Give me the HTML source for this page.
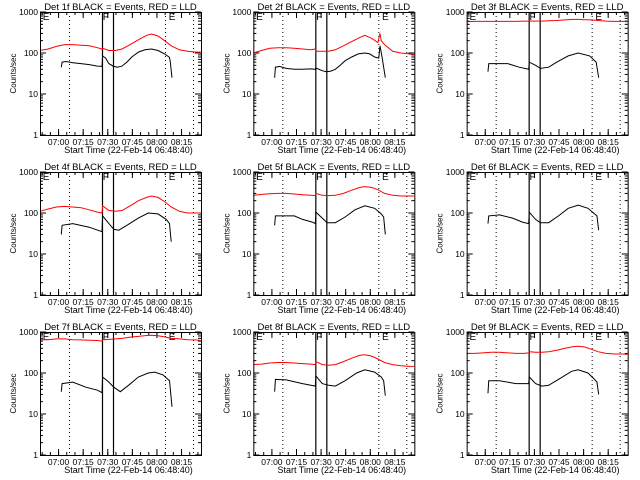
<!DOCTYPE html>
<html><head><meta charset="utf-8"><style>
html,body{margin:0;padding:0;background:#fff;width:640px;height:480px;overflow:hidden}
svg text{font-family:"Liberation Sans",sans-serif;fill:#000}
</style></head><body>
<svg id="chart" width="640" height="480" xmlns="http://www.w3.org/2000/svg"></svg>
<script>
// Minutes since start time 06:48:40
const detNames = ["1f","2f","3f","4f","5f","6f","7f","8f","9f"];
const tickLabels = ["07:00","07:15","07:30","07:45","08:00","08:15"];
const tickMinutes = [11.33,26.33,41.33,56.33,71.33,86.33];
const yTickValues = [1,10,100,1000];
const yTickLabels = ["1","10","100","1000"];
const dottedMinutes = [17.8,76.3,93.3];
const solidMinutes = [37.9,44.6];
const markerLabels = ["E","F","E"];
const markerMinutes = [1.7,38.3,78.5];

const redT = [0,5,10,15,20,25,30,35,37.8,38.2,42,46,50,55,60,65,68,72,76,80,85,90,95,98];
const red1 = [115,125,145,160,160,155,150,135,125,130,115,115,125,160,210,270,290,260,200,150,120,110,105,105];
const red2T = [0,5,10,15,20,25,30,35,37.8,38.2,42,46,50,55,60,65,68,72,76,77.2,78,80,85,90,95,98];
const red2 = [100,115,130,135,135,130,125,120,125,110,110,110,120,150,190,240,270,230,180,300,200,160,110,100,95,92];
const red3 = [580,590,590,590,590,590,590,600,600,600,600,600,610,620,640,660,660,650,640,620,600,590,590,580];
const red4 = [110,125,140,145,140,135,120,105,100,150,115,110,115,150,200,240,260,240,190,140,110,100,100,100];
const red5 = [270,285,295,300,300,290,280,270,265,300,270,265,270,300,360,420,440,420,370,300,270,260,260,260];
const red7 = [650,650,680,680,650,640,630,620,600,650,660,680,700,750,780,820,830,810,760,700,680,650,640,620];
const red8 = [160,165,175,180,180,175,170,165,160,190,160,155,160,190,230,270,280,260,220,180,160,150,145,145];
const red9 = [300,300,310,320,320,310,300,300,310,330,320,320,330,360,400,440,450,430,380,330,300,290,290,285];

const blk1T = [13,13.5,16,20,25,30,35,37.8,38.2,40,42,44.6,47,50,53,56,60,64,68,72,76,79,79.5,80.5];
const blk1 = [45,60,62,58,55,52,48,47,85,75,55,48,45,48,60,80,105,120,125,115,95,78,60,25];
const blk2T = [13,13.5,16,20,25,30,35,37.8,38.2,42,44.6,47,50,53,56,60,64,68,71,74,76.5,77.3,78.5,80.5];
const blk2 = [25,45,47,42,40,40,41,40,43,37,35,36,40,50,65,80,95,100,95,80,75,150,80,25];
const blk3T = [13,13.5,20,25,32,37.8,38.2,42,45,50,55,62,68,75,79,80.5];
const blk3 = [35,55,55,55,45,40,60,50,42,45,60,85,100,85,60,25];
const blk4T = [13,13.5,20,30,37.8,38.2,42,45,48,53,60,66,72,77,79,80];
const blk4 = [30,50,55,45,35,85,55,40,38,50,75,100,95,70,55,20];
const blk5T = [13,13.5,25,30,36,37.8,38.2,42,45,50,56,62,68,74,78,79.5,80.5];
const blk5 = [50,85,85,70,60,55,105,75,58,58,80,120,150,130,95,80,30];
const blk6T = [13,13.5,20,28,34,37.8,38.2,42,45,50,56,62,68,74,78,79.5,80.5];
const blk6 = [55,85,90,75,60,55,105,70,58,58,85,130,155,130,95,85,38];
const blk7T = [13,13.5,20,28,35,37.8,38.2,42,45,49,54,60,66,70,75,79,80.5];
const blk7 = [35,55,60,45,38,33,80,60,45,35,50,80,100,105,90,65,15];
const blk8T = [13,13.5,20,30,37.8,38.2,42,46,50,56,63,68,74,78,79.5,80.5];
const blk8 = [35,70,68,55,48,85,55,50,48,65,100,120,105,80,65,28];
const blk9T = [13,13.5,20,30,37.8,38.2,42,46,50,56,64,68,74,78,79.5,80.5];
const blk9 = [32,65,65,55,55,80,55,48,50,70,110,120,100,70,60,30];

const blackSeries = [[blk1T,blk1],[blk2T,blk2],[blk3T,blk3],[blk4T,blk4],[blk5T,blk5],[blk6T,blk6],[blk7T,blk7],[blk8T,blk8],[blk9T,blk9]];
const redSeries = [[redT,red1],[red2T,red2],[redT,red3],[redT,red4],[redT,red5],null,[redT,red7],[redT,red8],[redT,red9]];

const svg = document.getElementById('chart');
const NS = "http://www.w3.org/2000/svg";
function mk(tag, attrs, parent){
  const e = document.createElementNS(NS, tag);
  for (const k in attrs) e.setAttribute(k, attrs[k]);
  parent.appendChild(e);
  return e;
}
const L=40, R=201, T=12, B=135, TMAX=98.2;

for (let i=0;i<9;i++){
  const ox = (i%3)*213.33, oy = Math.floor(i/3)*160;
  const g = mk('g',{transform:`translate(${ox},${oy})`},svg);
  
  
  const xs = t => L + t/TMAX*(R-L);
  const ys = v => B - (Math.log10(v))/3*(B-T);

  const title = mk('text',{x:(L+R)/2,y:10,'font-size':'9.5','text-anchor':'middle'},g);
  title.textContent = `Det ${detNames[i]} BLACK = Events, RED = LLD`;
  
  

  const yl = mk('text',{x:0,y:0,'font-size':'8','text-anchor':'middle',transform:`translate(16,${(T+B)/2}) rotate(-90)`},g);
  yl.textContent = 'Counts/sec';
  
  

  const xl = mk('text',{x:(L+R)/2+8,y:153,'font-size':'9','text-anchor':'middle'},g);
  xl.textContent = 'Start Time (22-Feb-14 06:48:40)';
  
  

  // y ticks
  for (let d=0; d<3; d++){
    for (let m=2;m<=9;m++){
      const y = ys(m*Math.pow(10,d));
      mk('line',{x1:L,x2:L+3,y1:y,y2:y,stroke:'#000','stroke-width':1},g);
      mk('line',{x1:R,x2:R-3,y1:y,y2:y,stroke:'#000','stroke-width':1},g);
    }
  }
  yTickValues.forEach((v,k)=>{
    const y = ys(v);
    mk('line',{x1:L,x2:L+6,y1:y,y2:y,stroke:'#000','stroke-width':1},g);
    mk('line',{x1:R,x2:R-6,y1:y,y2:y,stroke:'#000','stroke-width':1},g);
    const tx = mk('text',{x:L-2,y:y+3,'font-size':'8.5','text-anchor':'end'},g);
    tx.textContent = yTickLabels[k];
    
    
  });
  tickMinutes.forEach((t,k)=>{
    const x = xs(t);
    mk('line',{x1:x,x2:x,y1:B,y2:B-6,stroke:'#000','stroke-width':1},g);
    mk('line',{x1:x,x2:x,y1:T,y2:T+6,stroke:'#000','stroke-width':1},g);
    const tx = mk('text',{x:x,y:145,'font-size':'8.5','text-anchor':'middle'},g);
    tx.textContent = tickLabels[k];
    
    
  });
  for (let t=1.33; t<TMAX; t+=5){
    const x = xs(t);
    mk('line',{x1:x,x2:x,y1:B,y2:B-3,stroke:'#000','stroke-width':1},g);
    mk('line',{x1:x,x2:x,y1:T,y2:T+3,stroke:'#000','stroke-width':1},g);
  }
  dottedMinutes.forEach(t=>{
    const x = Math.round(xs(t))+0.5;
    const l = mk('line',{x1:x,x2:x,y1:T,y2:B,stroke:'#000','stroke-width':1,'stroke-dasharray':'1,3'},g);
    
    
  });
  solidMinutes.forEach(t=>{
    const x = Math.round(xs(t))+0.5;
    const l = mk('line',{x1:x,x2:x,y1:T,y2:B,stroke:'#000','stroke-width':1.2},g);
    
    
  });
  markerLabels.forEach((s,k)=>{
    const tx = mk('text',{x:xs(markerMinutes[k]),y:T+8,'font-size':'10'},g);
    tx.textContent = s;
    
    
  });

  const rs = redSeries[i];
  if (rs){
    const p = rs[0].map((t,k)=>`${xs(t).toFixed(1)},${ys(rs[1][k]).toFixed(1)}`).join(' ');
    const pl = mk('polyline',{points:p,fill:'none',stroke:'#ff0000','stroke-width':1},g);
    
    
  }
  const bs = blackSeries[i];
  const pb = bs[0].map((t,k)=>`${xs(t).toFixed(1)},${ys(bs[1][k]).toFixed(1)}`).join(' ');
  const bl = mk('polyline',{points:pb,fill:'none',stroke:'#000','stroke-width':1},g);
  
  

  const box = mk('rect',{x:L+0.5,y:T+0.5,width:R-L,height:B-T,fill:'none',stroke:'#000','stroke-width':1},g);
  
  
}
</script>
</body></html>
